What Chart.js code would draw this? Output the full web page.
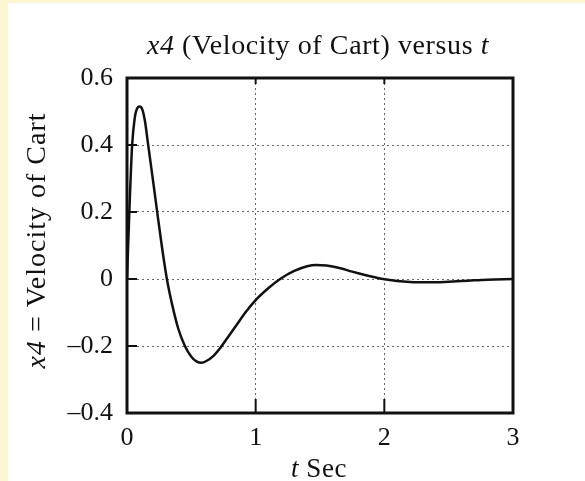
<!DOCTYPE html>
<html>
<head>
<meta charset="utf-8">
<script src="https://cdn.jsdelivr.net/npm/chart.js@4/dist/chart.umd.min.js"></script>
<style>
    html, body { margin: 0; padding: 0; }
    body { width: 585px; height: 481px; background: #fdf6d2; position: relative; overflow: hidden; }
    #box { position: absolute; left: 8px; top: 3px; width: 577px; height: 478px; background: #fff; }
</style>
</head>
<body>
<div id="box"><canvas id="chart" width="577" height="478"></canvas></div>
<script>
// t (sec) and x4
const tValues = [0, 0.02, 0.04, 0.06, 0.08, 0.10, 0.12, 0.14, 0.163, 0.20, 0.233, 0.27, 0.31, 0.35, 0.40,
    0.45, 0.50, 0.54, 0.58, 0.62, 0.67, 0.72, 0.78, 0.85, 0.92, 1.0, 1.1, 1.19, 1.3, 1.4, 1.47, 1.55,
    1.65, 1.75, 1.85, 1.99, 2.1, 2.2, 2.35, 2.5, 2.65, 2.8, 3.0];
const velocityValues = [0, 0.22, 0.40, 0.48, 0.51, 0.515, 0.505, 0.47, 0.405, 0.30, 0.205, 0.10, 0.0, -0.075, -0.15,
    -0.20, -0.232, -0.246, -0.25, -0.244, -0.230, -0.208, -0.176, -0.138, -0.10, -0.063, -0.027, 0.0, 0.024, 0.038, 0.042, 0.04,
    0.033, 0.022, 0.012, 0.0, -0.006, -0.009, -0.01, -0.008, -0.005, -0.002, 0];
const xTicks = [0, 1, 2, 3];
const yTicks = [-0.4, -0.2, 0, 0.2, 0.4, 0.6];

const serif = "'Liberation Serif', 'DejaVu Serif', serif";

function drawParts(ctx, parts, x, y, size) {
    let total = 0;
    parts.forEach(p => {
        ctx.font = (p.italic ? "italic " : "") + size + "px " + serif;
        p.w = ctx.measureText(p.text).width;
        total += p.w;
    });
    let cx = x - total / 2;
    parts.forEach(p => {
        ctx.font = (p.italic ? "italic " : "") + size + "px " + serif;
        ctx.fillText(p.text, cx, y);
        cx += p.w;
    });
}

const framePlugin = {
    id: "frame",
    afterDraw(chart) {
        const ctx = chart.ctx;
        const a = chart.chartArea;
        const xs = chart.scales.x, ys = chart.scales.y;
        ctx.save();
        ctx.strokeStyle = "#111";
        ctx.lineWidth = 3;
        ctx.strokeRect(a.left, a.top, a.right - a.left, a.bottom - a.top);
        ctx.lineWidth = 2;
        ctx.beginPath();
        yTicks.forEach(v => {
            const py = ys.getPixelForValue(v);
            ctx.moveTo(a.left, py); ctx.lineTo(a.left + 10, py);
        });
        xTicks.forEach(v => {
            const px = xs.getPixelForValue(v);
            ctx.moveTo(px, a.bottom); ctx.lineTo(px, a.bottom - 14);
            ctx.moveTo(px, a.top); ctx.lineTo(px, a.top + 6);
        });
        ctx.stroke();

        ctx.fillStyle = "#111";
        ctx.textBaseline = "alphabetic";
        ctx.textAlign = "left";
        ctx.letterSpacing = "0.6px";
        drawParts(ctx, [{ text: "x4", italic: true }, { text: " (Velocity of Cart) versus " }, { text: "t", italic: true }],
            (a.left + a.right) / 2 - 2, 51, 28);
        drawParts(ctx, [{ text: "t", italic: true }, { text: " Sec" }], (a.left + a.right) / 2 - 1, 474, 27);
        ctx.letterSpacing = "1px";
        ctx.translate(37, (a.top + a.bottom) / 2 - 5);
        ctx.rotate(-Math.PI / 2);
        drawParts(ctx, [{ text: "x4", italic: true }, { text: " = Velocity of Cart" }], 0, 0, 28);
        ctx.restore();
    }
};

const ctx = document.getElementById("chart");

const config = {
    type: "line",
    data: {
        datasets: [{
            data: tValues.map((t, i) => ({ x: t, y: velocityValues[i] })),
            borderColor: "#111",
            borderWidth: 2.5,
            pointRadius: 0,
            cubicInterpolationMode: "monotone",
            fill: false
        }]
    },
    options: {
        responsive: false,
        animation: false,
        layout: { padding: { top: 75, right: 72, left: 0, bottom: 0 } },
        plugins: {
            legend: { display: false },
            tooltip: { enabled: false }
        },
        scales: {
            x: {
                type: "linear",
                min: 0,
                max: 3,
                afterBuildTicks: s => { s.ticks = xTicks.map(v => ({ value: v })); },
                afterFit: s => { s.height = 68; },
                grid: { color: "#666", lineWidth: 1, drawTicks: false },
                border: { display: false, dash: [2, 3] },
                ticks: {
                    padding: 10,
                    color: "#111",
                    font: { family: serif, size: 26 },
                    callback: v => String(v)
                }
            },
            y: {
                min: -0.4,
                max: 0.6,
                afterBuildTicks: s => { s.ticks = yTicks.map(v => ({ value: v })); },
                afterFit: s => { s.width = 119; },
                grid: { color: "#666", lineWidth: 1, drawTicks: false },
                border: { display: false, dash: [2, 3] },
                ticks: {
                    padding: 14,
                    color: "#111",
                    font: { family: serif, size: 26 },
                    callback: v => {
                        const r = Math.round(v * 10) / 10;
                        return r === 0 ? "0" : (r < 0 ? "\u2013" + Math.abs(r).toFixed(1) : r.toFixed(1));
                    }
                }
            }
        }
    },
    plugins: [framePlugin]
};
const chartLine = new Chart(ctx, config);
</script>
</body>
</html>
